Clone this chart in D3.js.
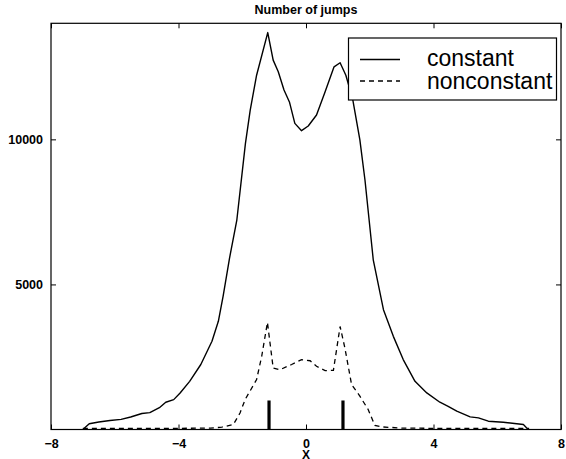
<!DOCTYPE html>
<html>
<head>
<meta charset="utf-8">
<script src="https://cdn.jsdelivr.net/npm/d3@7"></script>
<style>
  html, body { margin: 0; padding: 0; background: #fff; }
  svg { display: block; }
  text { font-family: "Liberation Sans", Arial, Helvetica, sans-serif; fill: #000; }
  .tick-label, .axis-title, .title { font-weight: bold; font-size: 12.5px; }
  .axis-title { font-size: 12px; }
  .legend-text { font-size: 23px; }
</style>
</head>
<body>
<svg id="chart" width="566" height="459"></svg>
<script>
// data
const constX = [-7.0, -6.8, -6.5, -6.15, -5.8, -5.5, -5.15, -4.9, -4.6, -4.4, -4.15, -3.95, -3.65, -3.3, -2.95, -2.75, -2.6, -2.4, -2.17, -1.9, -1.75, -1.55, -1.2, -1.03, -0.87, -0.69, -0.52, -0.35, -0.14, 0.07, 0.33, 0.6, 0.88, 1.07, 1.25, 1.46, 1.69, 1.85, 2.11, 2.43, 2.74, 3.05, 3.42, 3.79, 4.2, 4.46, 4.73, 5.15, 5.41, 5.72, 6.19, 6.82, 6.97];
const constY = [0, 200, 260, 310, 350, 430, 550, 580, 750, 940, 1030, 1260, 1660, 2240, 3040, 3730, 4600, 5900, 7220, 9860, 11010, 12210, 13680, 12730, 12330, 11700, 11290, 10550, 10300, 10460, 10840, 11640, 12500, 12640, 12210, 11410, 9980, 8600, 5850, 4130, 3210, 2410, 1660, 1260, 940, 800, 630, 436, 400, 286, 250, 170, 0];

const nonconstX = [-7, -6, -5, -4, -3, -2.64, -2.28, -2.07, -1.91, -1.55, -1.39, -1.21, -1.03, -0.82, -0.45, -0.14, 0.13, 0.33, 0.6, 0.86, 1.07, 1.22, 1.43, 1.69, 1.95, 2.16, 2.37, 3, 4, 5, 6, 7];
const nonconstY = [40, 40, 40, 40, 50, 80, 170, 570, 1030, 1720, 2520, 3690, 2120, 2060, 2240, 2410, 2370, 2180, 2030, 2040, 3550, 2810, 1550, 1150, 690, 140, 90, 50, 40, 40, 40, 40];

const barX = [-1.16, 1.16];
const barHeight = [1000, 1000];

const xTicks = [-8, -4, 0, 4, 8];
const xTickLabels = ["\u22128", "\u22124", "0", "4", "8"];
const yTicks = [5000, 10000];
const legendLabels = ["constant", "nonconstant"];

const titleText = "Number of jumps";
const xLabel = "X";

const svg = d3.select("#chart");
const mLeft = 51, mRight = 561, mTop = 23.3, mBottom = 429.5;
const tickLen = 5;

const x = d3.scaleLinear().domain([-8, 8]).range([mLeft, mRight]);
const y = d3.scaleLinear().domain([0, 14000]).range([mBottom, mTop]);

// axes box
svg.append("rect")
  .attr("x", mLeft).attr("y", mTop)
  .attr("width", mRight - mLeft).attr("height", mBottom - mTop)
  .attr("fill", "none").attr("stroke", "#000").attr("stroke-width", 1.2);

// x ticks (inward, bottom and top)
const xAxisB = d3.axisBottom(x).tickValues(xTicks).tickSize(-tickLen).tickFormat((d, i) => xTickLabels[i]).tickPadding(9.5);
const gxb = svg.append("g").attr("transform", `translate(0,${mBottom})`).call(xAxisB);
gxb.select(".domain").remove();
gxb.selectAll("text").attr("class", "tick-label");
gxb.attr("font-family", null).attr("font-size", null);

const gxt = svg.append("g").attr("transform", `translate(0,${mTop})`)
  .call(d3.axisTop(x).tickValues(xTicks).tickSize(-tickLen).tickFormat(""));
gxt.select(".domain").remove();

// y ticks (inward, left and right)
const gyl = svg.append("g").attr("transform", `translate(${mLeft},0)`)
  .call(d3.axisLeft(y).tickValues(yTicks).tickSize(-tickLen).tickPadding(3 + tickLen).tickFormat(d3.format("d")));
gyl.select(".domain").remove();
gyl.selectAll("text").attr("class", "tick-label");
gyl.attr("font-family", null).attr("font-size", null);

const gyr = svg.append("g").attr("transform", `translate(${mRight},0)`)
  .call(d3.axisRight(y).tickValues(yTicks).tickSize(-tickLen).tickFormat(""));
gyr.select(".domain").remove();

svg.selectAll(".tick line").attr("stroke", "#000").attr("stroke-width", 1);

// series
const line = d3.line().x(d => x(d[0])).y(d => y(d[1]));

svg.append("path")
  .datum(d3.zip(constX, constY))
  .attr("d", line)
  .attr("fill", "none").attr("stroke", "#000").attr("stroke-width", 1.4)
  .attr("stroke-linejoin", "round");

svg.append("path")
  .datum(d3.zip(nonconstX, nonconstY))
  .attr("d", line)
  .attr("fill", "none").attr("stroke", "#000").attr("stroke-width", 1.3)
  .attr("stroke-dasharray", "5,4");

// vertical bars
svg.selectAll(".bar")
  .data(d3.zip(barX, barHeight))
  .join("line")
  .attr("class", "bar")
  .attr("x1", d => x(d[0])).attr("x2", d => x(d[0]))
  .attr("y1", y(0)).attr("y2", d => y(d[1]))
  .attr("stroke", "#000").attr("stroke-width", 3.2);

// title and x label
svg.append("text").attr("class", "title")
  .attr("x", x(0)).attr("y", 14).attr("text-anchor", "middle").text(titleText);
svg.append("text").attr("class", "axis-title")
  .attr("x", x(0)).attr("y", 458.5).attr("text-anchor", "middle").text(xLabel);

// legend
const lg = svg.append("g");
lg.append("rect")
  .attr("x", 348.5).attr("y", 38)
  .attr("width", 208).attr("height", 62)
  .attr("fill", "#fff").attr("stroke", "#000").attr("stroke-width", 1.2);

const legendRows = [
  { label: legendLabels[0], dash: null, ly: 59.5, ty: 66 },
  { label: legendLabels[1], dash: "5,4", ly: 81, ty: 89 }
];
legendRows.forEach(r => {
  lg.append("line")
    .attr("x1", 360).attr("x2", 400).attr("y1", r.ly).attr("y2", r.ly)
    .attr("stroke", "#000").attr("stroke-width", 1.4)
    .attr("stroke-dasharray", r.dash);
  lg.append("text").attr("class", "legend-text")
    .attr("x", 427).attr("y", r.ty).text(r.label);
});
</script>
</body>
</html>
